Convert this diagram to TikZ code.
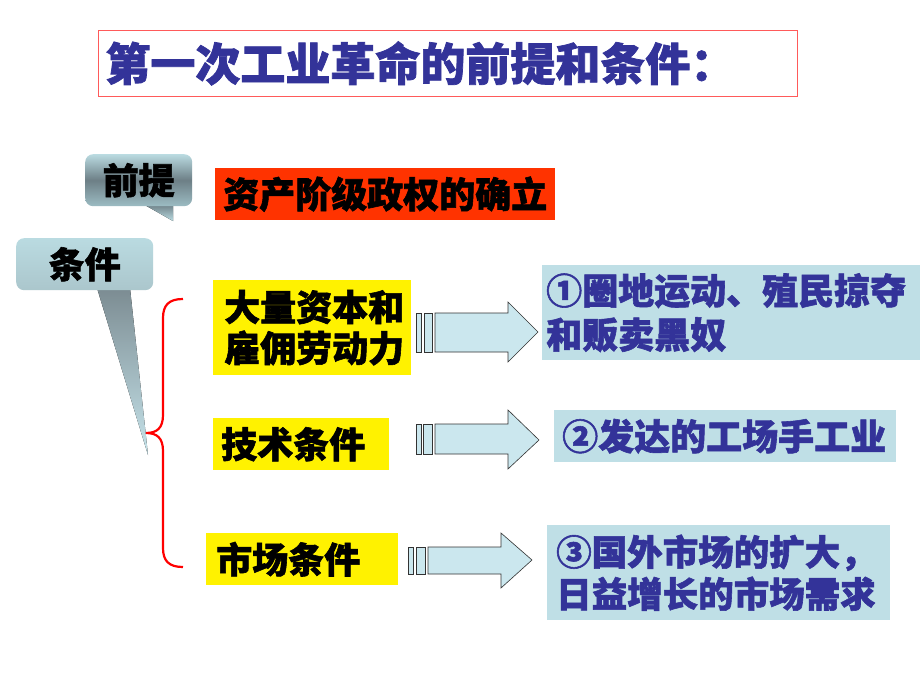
\documentclass[tikz,border=0pt]{standalone}
\usepackage{fontspec}
\newfontfamily\cjk{Noto Sans CJK SC}[BoldFeatures={FakeBold=1.6}]
\definecolor{titleblue}{HTML}{333399}
\definecolor{titleborder}{HTML}{FF5A5A}
\definecolor{boxblue}{HTML}{BFDFE6}
\definecolor{arrowblue}{HTML}{CBE7EE}
\definecolor{orangered}{HTML}{FF3300}
\definecolor{bracered}{HTML}{FF0000}
\definecolor{calloutlight}{HTML}{BADBE1}
\definecolor{calloutdark}{HTML}{6D7F86}
\definecolor{calloutmid}{HTML}{9CBCC3}
\definecolor{tailtip}{HTML}{C6E3EA}
\begin{document}
\begin{tikzpicture}[x=1pt,y=-1pt,
  txt/.style={font={\cjk\bfseries\fontsize{36}{41}\selectfont}},
  ybox/.style={txt, fill=yellow, anchor=north west, align=left, inner ysep=0pt},
  bbox/.style={txt, fill=boxblue, text=titleblue, anchor=north west, align=left, inner ysep=0pt},
  callbox/.style={txt, rounded corners=8pt, anchor=north west, inner sep=0pt},
  blockarrow/.style={fill=arrowblue, draw=black!80, line width=0.6pt, line join=miter},
  bracestyle/.style={draw=bracered, line width=2.2pt}]
\useasboundingbox (0,0) rectangle (920,690);
\fill[white] (0,0) rectangle (920,690);

% title
\node[draw=titleborder, line width=0.8pt, anchor=north west, minimum width=699pt,
  minimum height=66pt, inner xsep=7pt, text width=685pt, align=left, text=titleblue,
  font={\cjk\bfseries\fontsize{45}{50}\selectfont}] (title) at (98,30) {第一次工业革命的前提和条件：};

% premise callout
\fill[top color=calloutdark, bottom color=calloutlight] (143,204) -- (173,221) -- (173,204) -- cycle;
\node[callbox, top color=calloutlight, bottom color=calloutmid, middle color=calloutdark,
  minimum width=107pt, minimum height=52pt] (qianti) at (85,154) {前提};

\node[txt, fill=orangered, anchor=north west, minimum width=340pt, minimum height=52pt,
  inner xsep=0pt] (zichan) at (215,168) {资产阶级政权的确立};

% conditions callout
\fill[top color=calloutdark!90!white, bottom color=tailtip] (97,288) -- (148,455) -- (130,288) -- cycle;
\node[callbox, top color=calloutlight, bottom color=calloutmid!85!white,
  minimum width=137pt, minimum height=52pt] (tiaojian) at (16,238) {条件};

% brace
\coordinate (bracetip) at (146,433);
\path[bracestyle] (183,299) .. controls (169,299) and (163,305) .. (163,318) -- (163,415)
  .. controls (163,428) and (157,433) .. (bracetip)
  .. controls (157,433) and (163,438) .. (163,451) -- (163,548)
  .. controls (163,561) and (169,567) .. (183,567);

% yellow boxes
\node[ybox, minimum width=198pt, minimum height=95pt, inner xsep=11pt, text width=176pt]
  (ziben) at (213,280) {大量资本和\\雇佣劳动力};
\node[ybox, minimum width=176pt, minimum height=52pt, inner xsep=8pt, text width=160pt]
  (jishu) at (213,418) {技术条件};
\node[ybox, minimum width=192pt, minimum height=52pt, inner xsep=10pt, text width=172pt]
  (shichang) at (206,533) {市场条件};

% blue boxes
\node[bbox, minimum width=378pt, minimum height=95pt, inner xsep=4pt, text width=370pt,
  font={\cjk\bfseries\fontsize{36}{44}\selectfont}]
  (quandi) at (542,265) {①圈地运动、殖民掠夺\\和贩卖黑奴};
\node[bbox, minimum width=342pt, minimum height=52pt, inner xsep=8pt, text width=326pt]
  (gongchang) at (554,410) {②发达的工场手工业};
\node[bbox, minimum width=341pt, minimum height=95pt, inner xsep=9pt, text width=325pt,
  font={\cjk\bfseries\fontsize{35.5}{42}\selectfont}]
  (guowai) at (547,525) {③国外市场的扩大，\\日益增长的市场需求};

% block arrows
\draw[blockarrow] (416,313) rectangle (421,352);
\draw[blockarrow] (424,313) rectangle (432,352);
\draw[blockarrow] (435,313) -- (508,313) -- (508,302) -- (538,332) -- (508,362) -- (508,352) -- (435,352) -- cycle;

\draw[blockarrow] (416,424) rectangle (421,454);
\draw[blockarrow] (423,424) rectangle (432,454);
\draw[blockarrow] (435,424) -- (508,424) -- (508,410) -- (539,440) -- (508,469) -- (508,454) -- (435,454) -- cycle;

\draw[blockarrow] (408,547) rectangle (413,574);
\draw[blockarrow] (416,547) rectangle (425,574);
\draw[blockarrow] (428,547) -- (501,547) -- (501,533) -- (532,560) -- (501,588) -- (501,574) -- (428,574) -- cycle;
\end{tikzpicture}
\end{document}
